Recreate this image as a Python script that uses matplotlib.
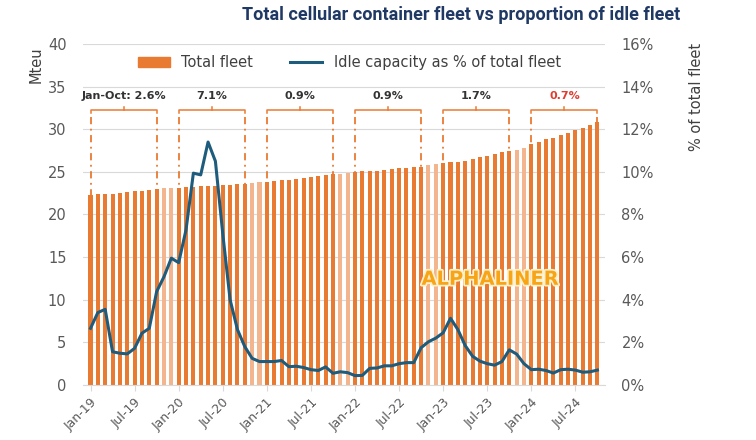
import numpy as np
import matplotlib.pyplot as plt
import matplotlib.patheffects as pe
from matplotlib.patches import Patch
from matplotlib.lines import Line2D

# Jan-19 .. Oct-24, monthly
fleet = [22.3, 22.35, 22.4, 22.45, 22.5, 22.6, 22.7, 22.8, 22.9, 23.0, 23.05, 23.1,
         23.15, 23.2, 23.25, 23.3, 23.35, 23.4, 23.45, 23.5, 23.55, 23.6, 23.7, 23.8,
         23.85, 23.95, 24.0, 24.1, 24.2, 24.3, 24.4, 24.5, 24.6, 24.7, 24.8, 24.9,
         25.0, 25.05, 25.1, 25.15, 25.2, 25.3, 25.4, 25.5, 25.55, 25.6, 25.8, 25.9,
         26.0, 26.1, 26.2, 26.3, 26.5, 26.7, 26.9, 27.1, 27.3, 27.5, 27.6, 27.8,
         28.3, 28.5, 28.8, 29.0, 29.3, 29.6, 29.9, 30.2, 30.5, 30.9]

idle = [2.66, 3.4, 3.55, 1.56, 1.49, 1.46, 1.72, 2.43, 2.66, 4.38, 5.08, 5.95,
        5.74, 7.28, 9.94, 9.86, 11.4, 10.5, 7.1, 4.0, 2.6, 1.8, 1.25, 1.1,
        1.1, 1.1, 1.15, 0.86, 0.88, 0.82, 0.72, 0.68, 0.85, 0.55, 0.62, 0.58,
        0.44, 0.45, 0.78, 0.8, 0.9, 0.9, 1.0, 1.05, 1.05, 1.75, 2.03, 2.2,
        2.45, 3.13, 2.6, 1.85, 1.35, 1.12, 1.0, 0.93, 1.1, 1.65, 1.45, 1.0,
        0.72, 0.74, 0.68, 0.56, 0.72, 0.74, 0.7, 0.6, 0.62, 0.7]

tick_labels = ["Jan-19", "Jul-19", "Jan-20", "Jul-20", "Jan-21", "Jul-21",
               "Jan-22", "Jul-22", "Jan-23", "Jul-23", "Jan-24", "Jul-24"]

year_labels = ["Jan-Oct: 2.6%", "7.1%", "0.9%", "0.9%", "1.7%", "0.7%"]

orange = "#E97A32"
light_orange = "#F3B58E"
blue = "#1D5C7C"
grey = "#595959"

n = len(fleet)
x = np.arange(n)
colors = [light_orange if i % 12 >= 10 else orange for i in x]

fig = plt.figure(figsize=(7.56, 4.4), dpi=100)
ax = fig.add_axes([0.11, 0.125, 0.69, 0.775])
ax2 = ax.twinx()

ax.bar(x, fleet, width=0.55, color=colors, zorder=2)
ax.set_ylim(0, 40)
ax.set_xlim(-1, 70)
ax.set_yticks(range(0, 41, 5))
ax.grid(axis="y", color="#D9D9D9", lw=0.8, zorder=0)
ax.set_axisbelow(True)

ax2.plot(x, idle, color=blue, lw=2.2, zorder=5)
ax2.set_ylim(0, 16)
ax2.set_yticks(range(0, 17, 2))
ax2.set_yticklabels([f"{v}%" for v in range(0, 17, 2)])

ax.set_xticks(x[::6])
ax.set_xticklabels(tick_labels, rotation=45, ha="right", rotation_mode="anchor")

for a in (ax, ax2):
    for s in a.spines.values():
        s.set_visible(False)
    a.tick_params(axis="y", length=0, colors=grey, labelsize=10.5, pad=12)
ax.spines["bottom"].set_visible(True)
ax.spines["bottom"].set_color("#D9D9D9")
ax.tick_params(axis="x", colors="#D9D9D9", labelcolor=grey, labelsize=9, length=4)

ax.text(-0.09, 0.94, "Mteu", transform=ax.transAxes, rotation=90,
        ha="center", va="center", fontsize=10.5, color="#404040")
ax2.text(1.175, 0.845, "% of total fleet", transform=ax2.transAxes, rotation=90,
         ha="center", va="center", fontsize=10.5, color="#404040")

# brackets over Jan-Oct of each year
for k, lab in enumerate(year_labels):
    x0, x1 = 12 * k, 12 * k + 9
    xm = (x0 + x1) / 2
    ax.plot([x0, x0, x1, x1], [31.9, 32.3, 32.3, 31.9], color=orange, lw=1.1, zorder=3)
    ax.plot([xm, xm], [32.3, 32.6], color=orange, lw=1.1, zorder=3)
    for xe in (x0, x1):
        ax.plot([xe, xe], [31.4, fleet[xe]], color=orange, lw=1.3,
                ls=(0, (4, 2.5, 1, 2.5)), zorder=3)
    ax.text(xm, 33.3, lab, ha="center", va="bottom", fontsize=8, fontweight="bold",
            color="#E03C31" if k == len(year_labels) - 1 else "#333333")

ax.text(0.78, 0.31, "ALPHALINER", transform=ax.transAxes, ha="center", va="center",
        fontsize=14, fontweight="bold", color="#F7A416", zorder=6,
        path_effects=[pe.withStroke(linewidth=2.5, foreground="#FFF1CC")])

handles = [Patch(color=orange), Line2D([0], [0], color=blue, lw=2.2)]
ax.legend(handles, ["Total fleet", "Idle capacity as % of total fleet"],
          loc="center", bbox_to_anchor=(0.51, 0.945), ncol=2, frameon=False,
          fontsize=10.5, handlelength=2.2, columnspacing=2.5, labelcolor="#404040")

fig.text(0.9, 0.965, "Total cellular container fleet vs proportion of idle fleet",
         ha="right", va="center", fontsize=13, fontweight="bold", color="#1F3864",
         family=["Liberation Sans Narrow", "Roboto"])

fig.savefig("out.png", dpi=100)
